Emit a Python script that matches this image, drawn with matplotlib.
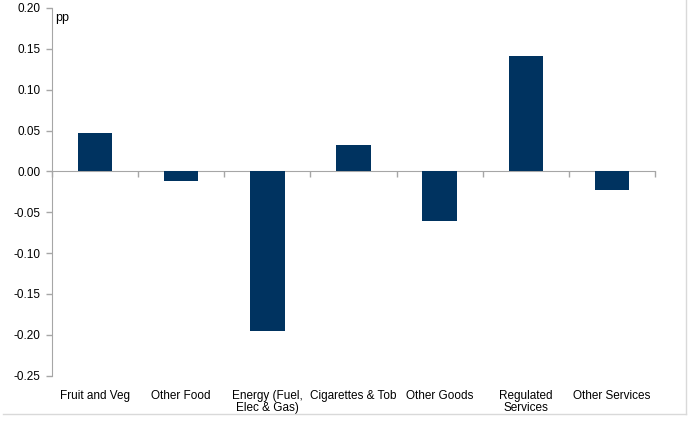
import numpy as np
import matplotlib.pyplot as plt
from matplotlib.lines import Line2D

plt.rcParams['font.family'] = ['Liberation Sans', 'DejaVu Sans']

# Contributions to change in inflation (pp)
categories = ["Fruit and Veg", "Other Food", "Energy (Fuel,\nElec & Gas)",
              "Cigarettes & Tob", "Other Goods", "Regulated\nServices",
              "Other Services"]
values = [0.047, -0.012, -0.195, 0.032, -0.061, 0.141, -0.023]
yticks = [-0.25, -0.20, -0.15, -0.10, -0.05, 0.00, 0.05, 0.10, 0.15, 0.20]

bar_color = '#003360'
axis_grey = '#a6a6a6'
fs = 8.5

fig = plt.figure(figsize=(6.92, 4.21), dpi=100)
ax = fig.add_axes([0.0751, 0.1078, 0.8714, 0.8732])

x = np.arange(len(categories))
ax.bar(x, values, width=0.4, color=bar_color, zorder=3)

ax.set_xlim(-0.5, len(categories) - 0.5)
ax.set_ylim(-0.25, 0.20)
ax.set_yticks(yticks)
ax.set_yticklabels([f"{v:.2f}" for v in yticks], fontsize=fs)
ax.tick_params(axis='y', direction='out', length=4, color=axis_grey, width=1, pad=4)

# zero line with category boundary ticks
ax.spines['bottom'].set_position(('data', 0))
ax.spines['bottom'].set_color(axis_grey)
ax.spines['left'].set_color(axis_grey)
ax.spines['top'].set_visible(False)
ax.spines['right'].set_visible(False)
ax.set_xticks(np.arange(-0.5, len(categories), 1.0))
ax.tick_params(axis='x', direction='out', length=4, color=axis_grey, width=1,
               labelbottom=False)

# category labels along the bottom
sec = ax.secondary_xaxis('bottom')
sec.set_xticks(x)
sec.set_xticklabels(categories, fontsize=fs, linespacing=1.0)
sec.tick_params(length=0, pad=10)
sec.spines['bottom'].set_visible(False)

ax.text(0.006, 0.99, "pp", transform=ax.transAxes, fontsize=9, va='top', ha='left')

# light frame lines (bottom and right) around the chart
fig.add_artist(Line2D([0.004, 0.992], [0.017, 0.017], transform=fig.transFigure,
                      color='#d9d9d9', linewidth=1))
fig.add_artist(Line2D([0.992, 0.992], [0.017, 1.0], transform=fig.transFigure,
                      color='#d9d9d9', linewidth=1))

fig.savefig('out.png', dpi=100)
